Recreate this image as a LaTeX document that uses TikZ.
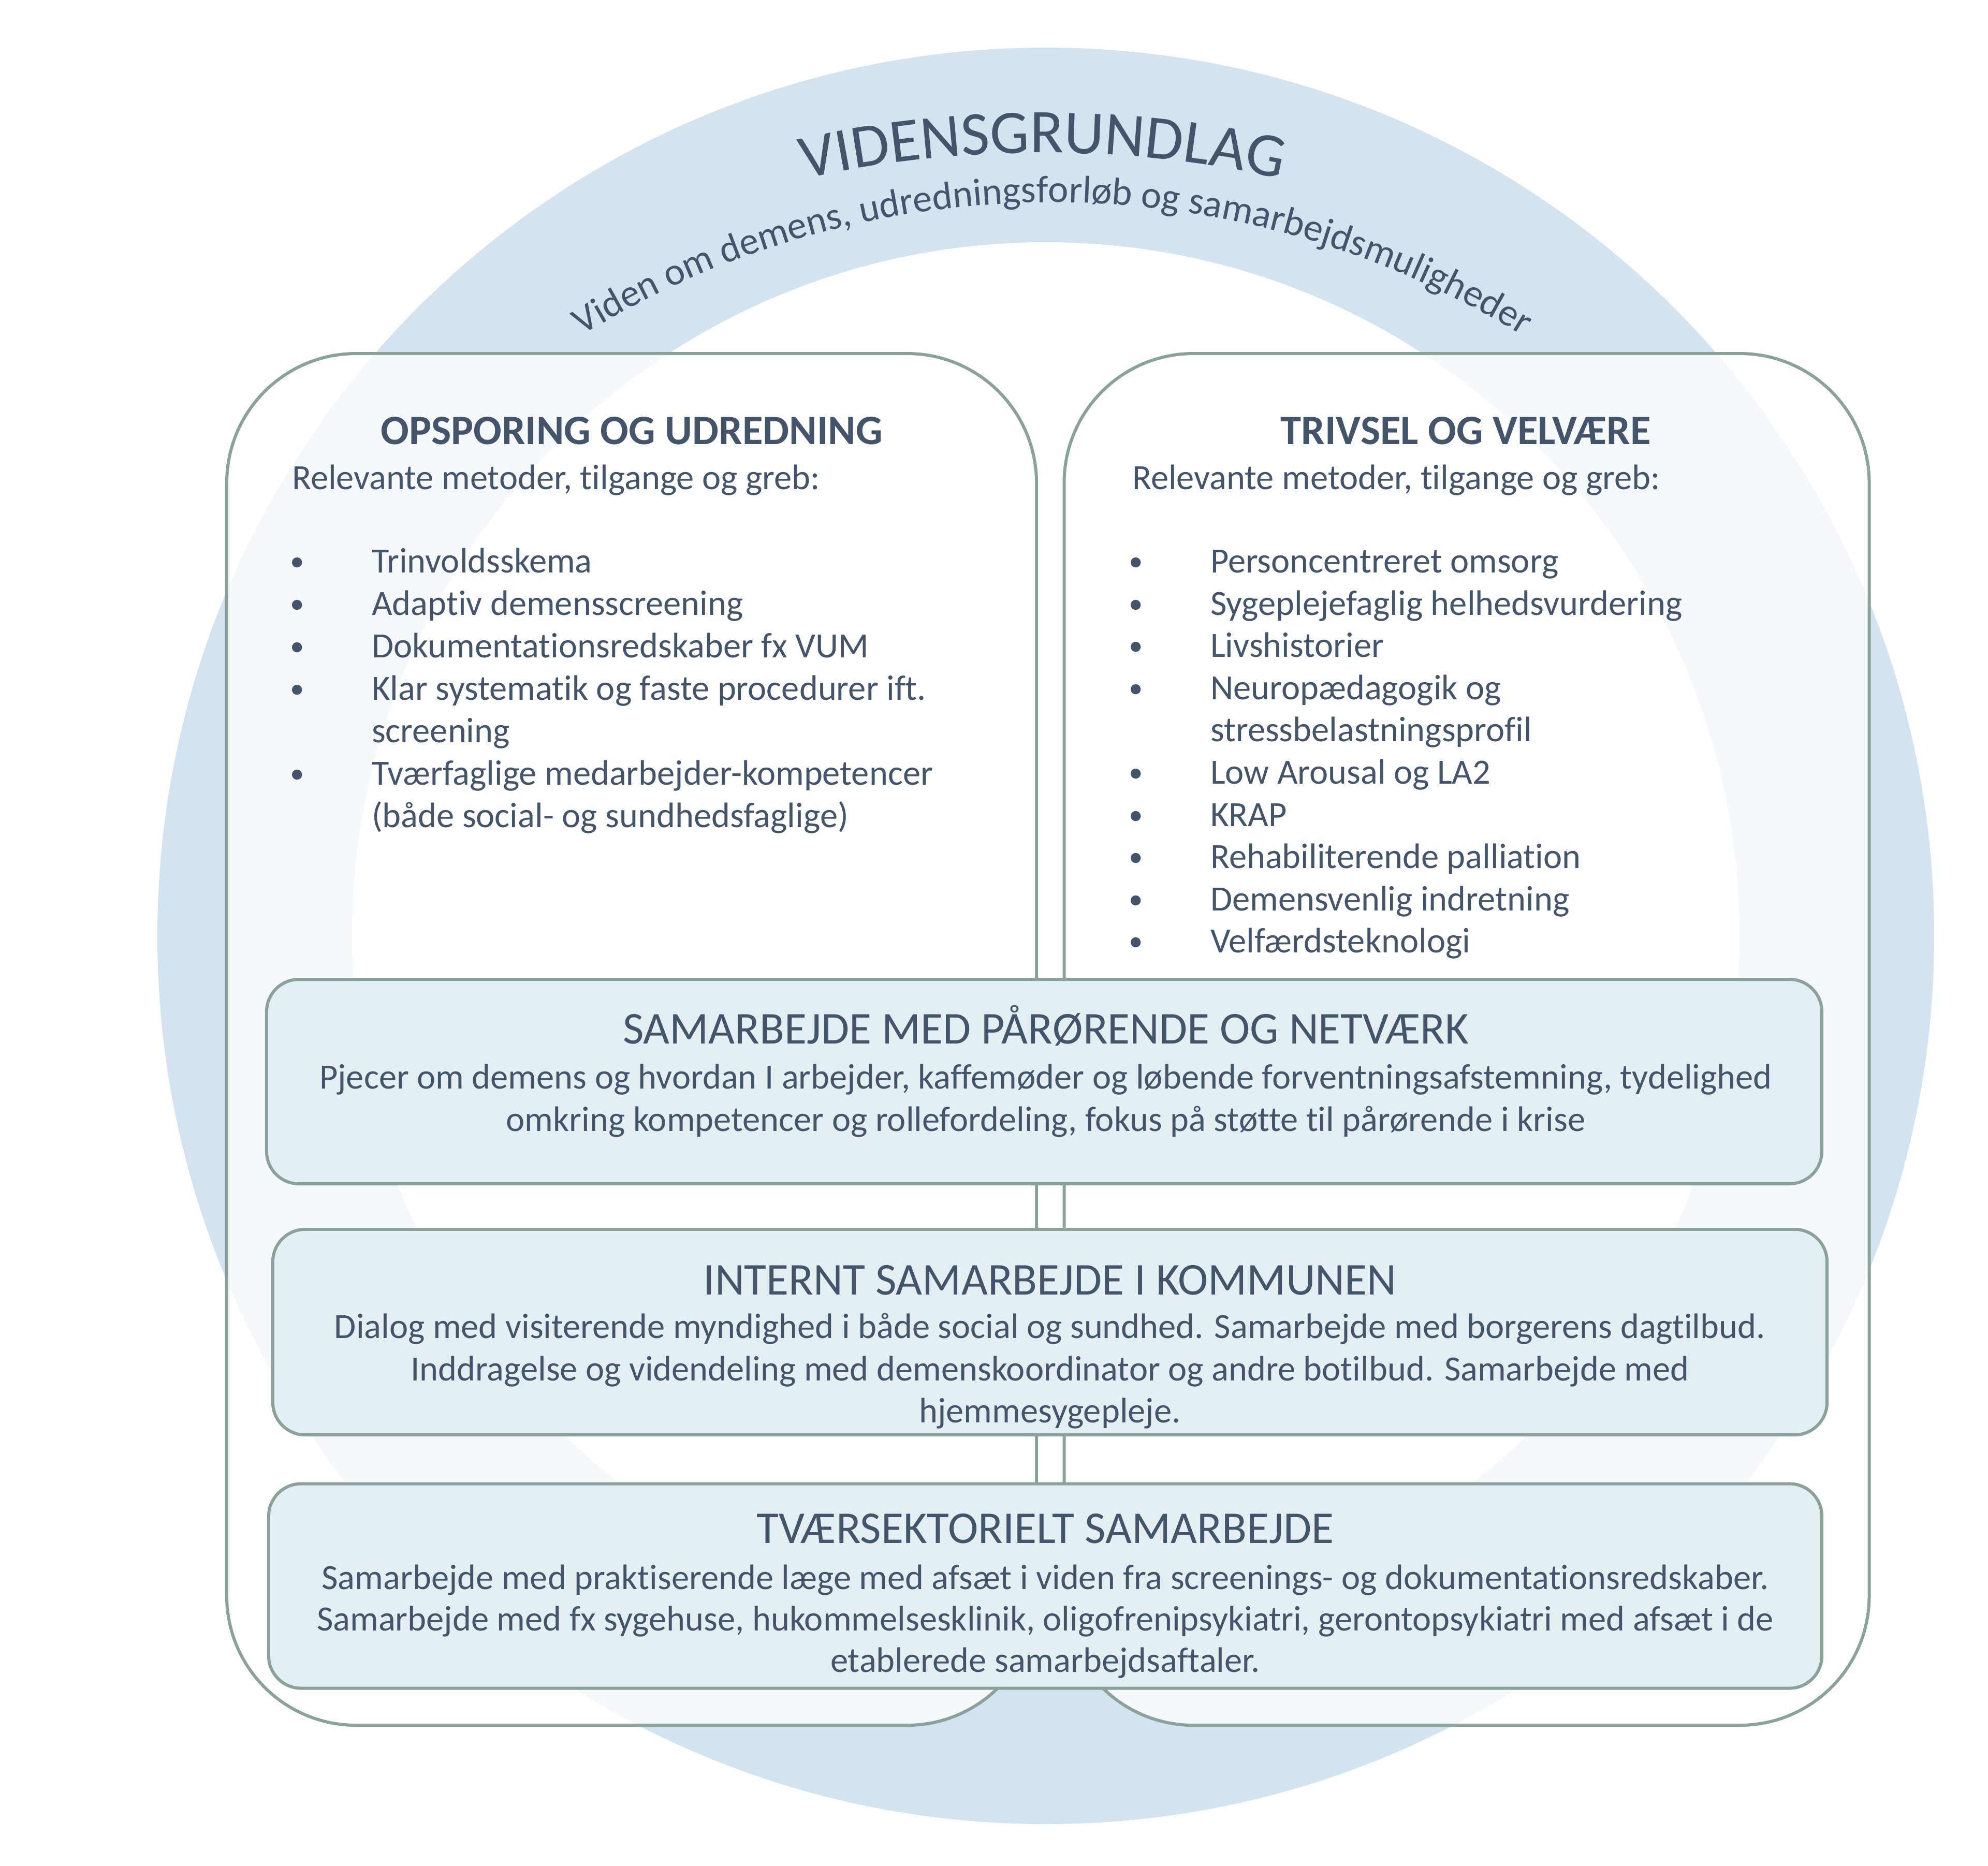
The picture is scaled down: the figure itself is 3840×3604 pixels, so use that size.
\documentclass[tikz,border=0pt]{standalone}
\usepackage{fontspec}
\setmainfont{Carlito}[Ligatures={NoCommon}]
\usetikzlibrary{decorations.text}
\definecolor{txt}{HTML}{44546A}
\definecolor{ringc}{HTML}{D3E4F0}
\definecolor{boxfill}{HTML}{E4EFF3}
\definecolor{edgec}{HTML}{8AA29A}
\newcommand\myfs[1]{\fontsize{#1}{#1}\selectfont}
\begin{document}
\begin{tikzpicture}[x=0.2pt,y=-0.2pt,
  tallbox/.style={draw=edgec, line width=1.2pt, fill=white, fill opacity=0.8, rounded corners=50pt, inner sep=0pt, outer sep=0pt},
  widebox/.style={draw=edgec, line width=1.2pt, fill=boxfill, rounded corners=12.5pt, inner sep=0pt, outer sep=0pt},
  body/.style={text=txt, font=\myfs{13.7}, inner sep=0pt},
  bul/.style={text=txt, font=\myfs{11}, inner sep=0pt},
  head/.style={text=txt, font=\bfseries\myfs{16.2}, inner sep=0pt},
  whead/.style={text=txt, font=\myfs{17.6}, inner sep=0pt}]
\useasboundingbox (0,0) rectangle (3840,3604);
\fill[white] (0,0) rectangle (3840,3604);
% ring
\fill[ringc] (2020,1808) circle[radius=1716];
\fill[white] (2020,1808) circle[radius=1340];
% arc texts
\path[decorate, decoration={text along path, text align=center,
  text={|\myfs{24}\color{txt}|VIDENSGRUNDLAG}}]
  (2014,2427) ++(-125:2132) arc[start angle=-125, end angle=-55, radius=2132];
\path[decorate, decoration={text along path, text align=center,
  text={|\myfs{14.9}\color{txt}|Viden om demens, udredningsforløb og samarbejdsmuligheder}}]
  (2032,2118) ++(-135:1727) arc[start angle=-135, end angle=-45, radius=1727];
% tall boxes
\node[tallbox, minimum width=312.8pt, minimum height=530pt] (left) at (1220,2008) {};
\node[tallbox, minimum width=311pt, minimum height=530pt] (right) at (2833,2008) {};
% wide boxes
\node[widebox, minimum width=600.8pt, minimum height=79pt] (b1) at (2017,2089.5) {};
\node[widebox, minimum width=600.4pt, minimum height=79.4pt] (b2) at (2028,2573.5) {};
\node[widebox, minimum width=600pt, minimum height=79pt] (b3) at (2019,3064) {};
% left box text
\node[head, anchor=base] (lt) at (1220,858) {OPSPORING OG UDREDNING};
\node[body, anchor=base west] (lr) at (563,945) {Relevante metoder, tilgange og greb:};
\node[bul, anchor=base] (lb1) at (574,1102) {•};
\node[body, anchor=base west] (l1) at (717,1106) {Trinvoldsskema};
\node[bul, anchor=base] (lb2) at (574,1184) {•};
\node[body, anchor=base west] (l2) at (717,1188) {Adaptiv demensscreening};
\node[bul, anchor=base] (lb3) at (574,1266) {•};
\node[body, anchor=base west] (l3) at (717,1270) {Dokumentationsredskaber fx VUM};
\node[bul, anchor=base] (lb4) at (574,1348) {•};
\node[body, anchor=base west] (l4) at (717,1352) {Klar systematik og faste procedurer ift.};
\node[body, anchor=base west] (l4b) at (717,1434) {screening};
\node[bul, anchor=base] (lb5) at (574,1512) {•};
\node[body, anchor=base west] (l5) at (717,1516) {Tværfaglige medarbejder-kompetencer};
\node[body, anchor=base west] (l5b) at (717,1598) {(både social- og sundhedsfaglige)};
% right box text
\node[head, anchor=base] (rt) at (2831,858) {TRIVSEL OG VELVÆRE};
\node[body, anchor=base west] (rr) at (2186,945) {Relevante metoder, tilgange og greb:};
\node[bul, anchor=base] (rb1) at (2194,1102) {•};
\node[body, anchor=base west] (r1) at (2337,1106) {Personcentreret omsorg};
\node[bul, anchor=base] (rb2) at (2194,1184) {•};
\node[body, anchor=base west] (r2) at (2337,1188) {Sygeplejefaglig helhedsvurdering};
\node[bul, anchor=base] (rb3) at (2194,1265) {•};
\node[body, anchor=base west] (r3) at (2337,1269) {Livshistorier};
\node[bul, anchor=base] (rb4) at (2194,1347) {•};
\node[body, anchor=base west] (r4) at (2337,1351) {Neuropædagogik og};
\node[body, anchor=base west] (r4b) at (2337,1432) {stressbelastningsprofil};
\node[bul, anchor=base] (rb5) at (2194,1510) {•};
\node[body, anchor=base west] (r5) at (2337,1514) {Low Arousal og LA2};
\node[bul, anchor=base] (rb6) at (2194,1592) {•};
\node[body, anchor=base west] (r6) at (2337,1596) {KRAP};
\node[bul, anchor=base] (rb7) at (2194,1673) {•};
\node[body, anchor=base west] (r7) at (2337,1677) {Rehabiliterende palliation};
\node[bul, anchor=base] (rb8) at (2194,1755) {•};
\node[body, anchor=base west] (r8) at (2337,1759) {Demensvenlig indretning};
\node[bul, anchor=base] (rb9) at (2194,1836) {•};
\node[body, anchor=base west] (r9) at (2337,1840) {Velfærdsteknologi};
% box 1 text
\node[whead, anchor=base] (b1t) at (2020,2016) {SAMARBEJDE MED PÅRØRENDE OG NETVÆRK};
\node[body, anchor=base] (b1l1) at (2020,2103) {Pjecer om demens og hvordan I arbejder, kaffemøder og løbende forventningsafstemning, tydelighed};
\node[body, anchor=base] (b1l2) at (2020,2185) {omkring kompetencer og rollefordeling, fokus på støtte til pårørende i krise};
% box 2 text
\node[whead, anchor=base] (b2t) at (2028,2501) {INTERNT SAMARBEJDE I KOMMUNEN};
\node[body, anchor=base] (b2l1) at (2028,2585) {Dialog med visiterende myndighed i både social og sundhed. Samarbejde med borgerens dagtilbud.};
\node[body, anchor=base] (b2l2) at (2028,2667) {Inddragelse og videndeling med demenskoordinator og andre botilbud. Samarbejde med};
\node[body, anchor=base] (b2l3) at (2028,2748) {hjemmesygepleje.};
% box 3 text
\node[whead, anchor=base] (b3t) at (2019,2981) {TVÆRSEKTORIELT SAMARBEJDE};
\node[body, anchor=base] (b3l1) at (2019,3070) {Samarbejde med praktiserende læge med afsæt i viden fra screenings- og dokumentationsredskaber.};
\node[body, anchor=base] (b3l2) at (2019,3150) {Samarbejde med fx sygehuse, hukommelsesklinik, oligofrenipsykiatri, gerontopsykiatri med afsæt i de};
\node[body, anchor=base] (b3l3) at (2019,3230) {etablerede samarbejdsaftaler.};
\end{tikzpicture}
\end{document}
